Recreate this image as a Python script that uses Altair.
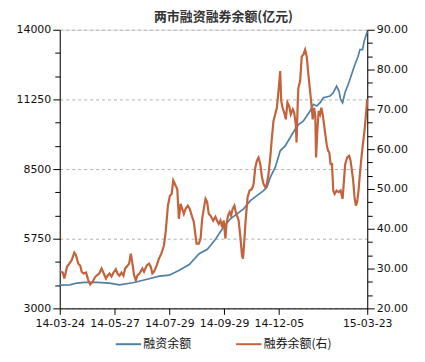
import altair as alt
import pandas as pd

# trading-day index (0 = 14-03-24) and values
fin_day = [0, 8, 14, 20, 30, 40, 48, 58.6, 69.4, 80, 88, 96, 104, 112, 118.6, 125.4, 128,
           131.7, 137.1, 142.4, 147.7, 153.1, 158.4, 163.7, 166.4, 169.1, 173.1, 177.1, 181.1,
           185.1, 189.1, 192, 195.7, 201.1, 203.7, 206.4, 209.1, 211.7, 217.1, 219.7, 222.4,
           224.3, 225.6, 227.2, 229.1, 231.7, 234.4, 237.1, 239.7, 241.1, 243.2, 244.5, 247]
fin_val = [3915, 3930, 4000, 4030, 4030, 4000, 3930, 4010, 4140, 4270, 4310, 4505, 4730, 5160,
           5330, 5750, 5950, 6210, 6536, 6733, 6929, 7255, 7452, 7648, 7780, 8172, 8565, 9220,
           9416, 9746, 10072, 10269, 10400, 10793, 11054, 10990, 11120, 11317, 11380, 11513,
           11775, 11577, 11250, 11120, 11513, 11840, 12233, 12626, 12952, 13215, 13215, 13542,
           13935]

sec_day = [0, 2.4, 3.7, 5.9, 7.7, 9.6, 11.7, 13.1, 14.9, 16.5, 17.6, 19.2, 21.1, 22.9, 24.5,
           26.4, 28.3, 29.9, 31.7, 33.6, 35.2, 37.1, 38.4, 40, 41.6, 43.2, 45.1, 46.4, 48, 49.6,
           51.2, 52.5, 54.4, 55.7, 57.1, 58.4, 59.7, 61.1, 62.4, 64, 66.4, 67.7, 69.9, 71.7, 73.1,
           74.4, 75.7, 77.9, 79.7, 81.6, 83.7, 85.1, 86.9, 88.5, 89.9, 91.2, 93.1, 94.4, 95.7,
           97.1, 98.4, 99.7, 101.1, 102.9, 104.5, 105.6, 107.7, 109.9, 111.7, 113.1, 114.4,
           115.7, 117.1, 118.4, 119.7, 121.1, 123.2, 125.1, 126.4, 127.7, 129.1, 130.4, 131.7,
           133.1, 133.9, 135.2, 136.5, 137.6, 138.9, 140.3, 141.1, 142.4, 143.7, 145.1, 146.4,
           147.2, 148.3, 149.3, 150.9, 152.5, 154.4, 155.7, 157.1, 158.4, 159.7, 161.1, 162.4,
           163.7, 165.1, 166.4, 167.7, 169.1, 170.4, 171.7, 173.1, 174.4, 175.7, 177.1, 177.9,
           179, 180.3, 181.6, 182.9, 184.3, 185.6, 187.2, 188.3, 189.6, 190.2, 191.2, 191.7,
           193.1, 194.4, 195.7, 197.1, 198.4, 199.7, 201.1, 202.4, 203.2, 204.3, 205.3, 205.9,
           206.9, 208, 209.1, 210.1, 211.2, 212.3, 213.3, 214.4, 215.5, 216.5, 217.6, 218.7,
           219.7, 220.8, 222.4, 224, 225.6, 227.2, 228.3, 229.3, 230.9, 232.5, 233.6, 234.7,
           235.7, 236.8, 237.9, 238.9, 240, 241.1, 242.1, 243.2, 244.3, 245.3, 247]
sec_val = [29.3, 29.0, 27.5, 30.5, 31.25, 32.1, 34, 33.3, 31.2, 30.7, 29.2, 28.75, 29, 27.1, 26,
           26.7, 27.8, 28.3, 28.75, 30, 28.9, 27.5, 28.2, 28.75, 28, 29, 29.8, 28.75, 28.2, 29,
           28.2, 30, 30.7, 31.25, 33.75, 31.2, 28.3, 27.1, 28.3, 28.75, 30, 29.2, 30.8, 31.25,
           30.5, 28.75, 29.2, 30.8, 32.5, 33.75, 35.8, 39.2, 45.8, 48.3, 48.75, 52.1, 50.8, 50,
           42.5, 46.25, 45, 43.75, 45, 45.8, 45, 43.75, 41.7, 36.25, 36.25, 37.5, 42.5, 45, 47.5,
           46.7, 43.75, 43.3, 42, 43, 42, 41.25, 42.1, 40.4, 42.1, 37.5, 41.25, 43.3, 44.2, 43.3,
           45, 45.8, 44.6, 43.3, 42.1, 37.9, 33.3, 32.5, 37.1, 42.1, 47.9, 49.6, 50, 51.25, 55.4,
           57.1, 57.9, 56.25, 53, 51.25, 50.4, 51.25, 53.75, 57.9, 62.9, 67.1, 68.75, 70.4, 74.6,
           79.6, 72.1, 70.4, 69.2, 67.5, 71.7, 70.8, 68.75, 70, 69.2, 66.25, 61.7, 72, 75.4, 77.1,
           83.3, 83.75, 85, 83.3, 78.75, 74.6, 70.4, 67.5, 70.4, 68.3, 57.9, 64.6, 69.6, 68.75,
           70.4, 68.75, 66.25, 63.75, 61.25, 59.6, 59.2, 56.25, 56.25, 49.6, 48.75, 49.6, 49.2,
           49.6, 47.5, 52.1, 56.25, 57.9, 58.3, 57.1, 54.6, 52.1, 47.9, 45.8, 46.7, 49.6, 53.75,
           57.1, 60.4, 63.3, 66.25, 72.5]

tick_days = [0, 44, 88, 132, 176, 247]
tick_labels = ["14-03-24", "14-05-27", "14-07-29", "14-09-29", "14-12-05", "15-03-23"]
series_names = ["融资余额", "融券余额(右)"]
series_colors = ["#4f80a8", "#c4623c"]
title_text = "两市融资融券余额(亿元)"

left_ticks = [3000 + i * 11000 / 12 for i in range(13)]
right_ticks = [20 + i * 70 / 21 for i in range(22)]

fin_df = pd.DataFrame({"day": fin_day, "value": fin_val, "series": series_names[0]})
sec_df = pd.DataFrame({"day": sec_day, "value": sec_val, "series": series_names[1]})

label_expr = " : ".join(
    f"datum.value == {d} ? '{l}'" for d, l in zip(tick_days, tick_labels)
) + " : ''"

FONT = "DejaVu Sans"

x_enc = alt.X(
    "day:Q",
    scale=alt.Scale(domain=[0, 247], nice=False, zero=False),
    axis=alt.Axis(
        values=tick_days, labelExpr=label_expr, title=None, grid=False,
        domainColor="#000", tickColor="#000", tickSize=6, labelFont=FONT,
        labelFontSize=11, labelColor="#111", labelPadding=3, labelFlush=False,
    ),
)

color_scale = alt.Scale(domain=series_names, range=series_colors)

major_left = "abs(datum.value - 3000) % 2750 < 1 || abs((datum.value - 3000) % 2750 - 2750) < 1"
major_right = "abs(datum.value - round(datum.value / 10) * 10) < 0.01"

left = alt.Chart(fin_df).mark_line(strokeWidth=1.7).encode(
    x=x_enc,
    y=alt.Y(
        "value:Q",
        scale=alt.Scale(domain=[3000, 14000], nice=False, zero=False),
        axis=alt.Axis(
            orient="left", values=left_ticks, title=None,
            labelExpr=f"({major_left}) ? format(datum.value, 'd') : ''",
            grid=True, gridDash=[3, 3], gridColor="#b0b0b0",
            gridOpacity={"condition": {"test": major_left, "value": 1}, "value": 0},
            tickSize={"condition": {"test": major_left, "value": 7}, "value": 5},
            domainColor="#000", tickColor="#000", labelFont=FONT, labelFontSize=11,
            labelColor="#111", labelPadding=2, labelFlush=False,
        ),
    ),
    color=alt.Color("series:N", scale=color_scale, title=None,
                    legend=alt.Legend(
                        orient="none", legendX=55, legendY=302, direction="horizontal",
                        symbolType="stroke", symbolSize=650, symbolStrokeWidth=2,
                        labelFont="Noto Sans CJK SC", labelFontSize=12, labelColor="#111",
                        labelOffset=1, columnPadding=40)),
)

right = alt.Chart(sec_df).mark_line(strokeWidth=2.2).encode(
    x=x_enc,
    y=alt.Y(
        "value:Q",
        scale=alt.Scale(domain=[20, 90], nice=False, zero=False),
        axis=alt.Axis(
            orient="right", values=right_ticks, title=None, grid=False,
            labelExpr=f"({major_right}) ? format(datum.value, '.2f') : ''",
            tickSize={"condition": {"test": major_right, "value": 7}, "value": 5},
            domainColor="#000", tickColor="#000", labelFont=FONT, labelFontSize=11,
            labelColor="#111", labelPadding=2, labelFlush=False,
        ),
    ),
    color=alt.Color("series:N", scale=color_scale, title=None),
)

chart = alt.layer(left, right).resolve_scale(y="independent").properties(
    width=309,
    height=280,
    autosize=alt.AutoSizeParams(type="none"),
    padding={"left": 52, "top": 21, "right": 50, "bottom": 44},
    title=alt.TitleParams(
        title_text, font="Noto Sans CJK SC", fontSize=13, fontWeight="bold",
        color="#333", anchor="middle", dx=10, offset=0,
    ),
).configure_view(stroke=None).configure(background="white")

chart.save("out.html", embed_options={"renderer": "svg", "actions": False})
